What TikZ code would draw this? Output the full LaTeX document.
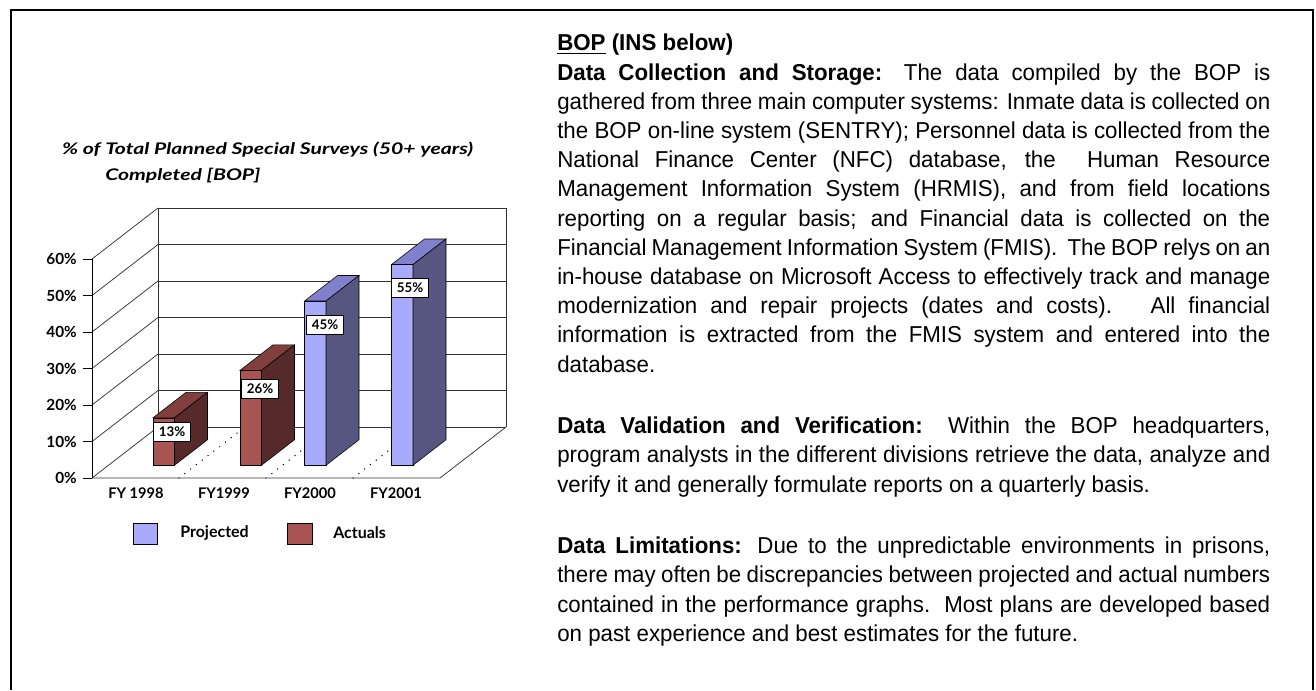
\documentclass[tikz,border=0pt]{standalone}
\usepackage{fontspec}
\usepackage{graphicx}
\setmainfont{Liberation Sans}[FakeStretch=0.97]
\newfontfamily\chartfont{Lato}

\definecolor{redfront}{RGB}{168,84,82}
\definecolor{redtop}{RGB}{128,62,60}
\definecolor{redside}{RGB}{86,42,42}
\definecolor{bluefront}{RGB}{170,170,252}
\definecolor{bluetop}{RGB}{128,128,204}
\definecolor{blueside}{RGB}{86,86,128}
\definecolor{wallgray}{RGB}{50,50,50}

% horizontal scale shared by both title lines
\newsavebox\fitbox
\newlength\fitlen
\newcommand\titlefont{\chartfont\bfseries\itshape\fontsize{12}{14}\selectfont}
\newcommand\titleone{\% of Total Planned Special Surveys (50+ years)}

% chart geometry (pixels): front axis, zero line, unit per percent, depth
\def\fx{92}\def\fy{478}\def\un{3.65}\def\dx{66}\def\dy{51}

% one 3-D column: left x of front face, value in %, colour series
\newcommand\colbar[3]{%
  \pgfmathsetmacro\bb{\fy-\dy/4}%
  \pgfmathsetmacro\bt{\bb-\un*#2}%
  \filldraw[#3front,draw=black,line width=0.4pt] (#1,\bb) rectangle ({#1+21.5},\bt);
  \filldraw[#3top,draw=black,line width=0.4pt] (#1,\bt) -- ({#1+21.5},\bt)
     -- ({#1+21.5+\dx/2},{\bt-\dy/2}) -- ({#1+\dx/2},{\bt-\dy/2}) -- cycle;
  \filldraw[#3side,draw=black,line width=0.4pt] ({#1+21.5},\bb) -- ({#1+21.5},\bt)
     -- ({#1+21.5+\dx/2},{\bt-\dy/2}) -- ({#1+21.5+\dx/2},{\bb-\dy/2}) -- cycle;
}

% body text lines: justified and ragged
\newcommand\jline[3]{\node[body] (#1) at (557,#2) {\makebox[534.75pt][s]{#3}};}
\newcommand\rline[3]{\node[body] (#1) at (557,#2) {#3};}

\begin{document}
\begin{tikzpicture}[x=0.75pt,y=-0.75pt,
  frameline/.style={line width=2.2pt},
  wall/.style={draw=wallgray,line width=0.55pt},
  axisline/.style={draw=black,line width=0.6pt},
  ylab/.style={anchor=east,inner sep=0pt,font=\chartfont\bfseries\fontsize{11.5}{12}\selectfont},
  xlab/.style={inner sep=0pt,font=\chartfont\bfseries\fontsize{11}{12}\selectfont},
  leglab/.style={anchor=west,inner sep=0pt,font=\chartfont\bfseries\fontsize{12}{13}\selectfont},
  valbox/.style={draw=black,fill=white,line width=0.6pt,inner sep=0pt,
     minimum width=27.75pt,minimum height=14.25pt,
     font=\chartfont\bfseries\fontsize{10}{10}\selectfont},
  legbox/.style={draw=black,line width=0.5pt},
  titletext/.style={inner sep=0pt},
  dots/.style={black,line width=1.1pt,line cap=round,dash pattern=on 0pt off 5.5pt},
  body/.style={anchor=base west,inner sep=0pt,font=\fontsize{17.25}{20}\selectfont}]

\useasboundingbox (0,0) rectangle (1316,690);
\fill[white] (0,0) rectangle (1316,690);

% page frame, open at the bottom
\draw[frameline] (11,690) -- (11,10) -- (1313,10) -- (1313,690);

% ---------- chart title ----------
\node[titletext] (title1) at (267.5,150)
  {\sbox\fitbox{\titlefont\titleone}\setlength\fitlen{\wd\fitbox}%
   \xdef\tsc{\fpeval{308.25pt/\fitlen}}\scalebox{\tsc}[1]{\usebox\fitbox}};
\node[titletext,anchor=west] (title2) at (105,176)
  {\scalebox{\tsc}[1]{\titlefont Completed [BOP]}};

% ---------- back wall ----------
\foreach \p in {0,10,...,60}
  \draw[wall] ({\fx+\dx},{\fy-\dy-\un*\p}) -- ({\fx+348+\dx},{\fy-\dy-\un*\p});
\draw[wall] ({\fx+\dx},{\fy-\dy}) -- ({\fx+\dx},{\fy-\dy-\un*60});
\draw[wall] ({\fx+348+\dx},{\fy-\dy}) -- ({\fx+348+\dx},{\fy-\dy-\un*60});

% ---------- side wall ----------
\foreach \p in {0,10,...,60}
  \draw[wall] (\fx,{\fy-\un*\p}) -- ({\fx+\dx},{\fy-\dy-\un*\p});

% ---------- floor ----------
\draw[wall] (\fx,\fy) -- ({\fx+348},\fy) -- ({\fx+348+\dx},{\fy-\dy});
\foreach \k in {1,2,3}
  \draw[dots] ({\fx+87*\k},\fy) -- ({\fx+\dx+87*\k},{\fy-\dy});

% ---------- value axis ----------
\draw[axisline] (\fx,\fy) -- (\fx,{\fy-\un*60});
\foreach \p in {0,10,...,60} {
  \draw[axisline] ({\fx-9},{\fy-\un*\p}) -- (\fx,{\fy-\un*\p});
  \node[ylab] (y\p) at (77,{\fy-\un*\p}) {\p\%};
}

% ---------- columns ----------
\colbar{153}{13}{red}
\colbar{240}{26}{red}
\colbar{304.5}{45}{blue}
\colbar{391.5}{55}{blue}

\node[valbox] (v13) at (172,432) {13\%};
\node[valbox] (v26) at (260,389) {26\%};
\node[valbox] (v45) at (325,325) {45\%};
\node[valbox] (v55) at (410,288) {55\%};

% ---------- category labels ----------
\node[xlab] (fy98) at (136,493) {FY 1998};
\node[xlab] (fy99) at (224,493) {FY1999};
\node[xlab] (fy00) at (310,493) {FY2000};
\node[xlab] (fy01) at (396,493) {FY2001};

% ---------- legend ----------
\filldraw[legbox,fill=bluefront] (133,523) rectangle (157,544);
\node[leglab] (lproj) at (180,533) {Projected};
\filldraw[legbox,fill=redfront] (287,523) rectangle (312,544);
\node[leglab] (lact) at (333,533) {Actuals};

% ---------- text column ----------
\rline{h0}{50.8}{\textbf{\underline{BOP} (INS below)}}
\jline{a1}{80}{\textbf{Data Collection and Storage:} The data compiled by the BOP is}
\jline{a2}{109.2}{gathered from three main computer systems: Inmate data is collected on}
\jline{a3}{138.4}{the BOP on-line system (SENTRY); Personnel data is collected from the}
\jline{a4}{167.6}{National Finance Center (NFC) database, the\ \ Human Resource}
\jline{a5}{196.8}{Management Information System (HRMIS), and from field locations}
\jline{a6}{226}{reporting on a regular basis; and Financial data is collected on the}
\jline{a7}{255.2}{Financial Management Information System (FMIS).\ \ The BOP relys on an}
\jline{a8}{284.4}{in-house database on Microsoft Access to effectively track and manage}
\jline{a9}{313.6}{modernization and repair projects (dates and costs).\ \ \ All financial}
\jline{a10}{342.8}{information is extracted from the FMIS system and entered into the}
\rline{a11}{372}{database.}

\jline{b1}{433.6}{\textbf{Data Validation and Verification:} Within the BOP headquarters,}
\jline{b2}{462.8}{program analysts in the different divisions retrieve the data, analyze and}
\rline{b3}{492}{verify it and generally formulate reports on a quarterly basis.}

\jline{c1}{553.6}{\textbf{Data Limitations:} Due to the unpredictable environments in prisons,}
\jline{c2}{582.8}{there may often be discrepancies between projected and actual numbers}
\jline{c3}{612}{contained in the performance graphs.\ \ Most plans are developed based}
\rline{c4}{641.2}{on past experience and best estimates for the future.}

\end{tikzpicture}
\end{document}
